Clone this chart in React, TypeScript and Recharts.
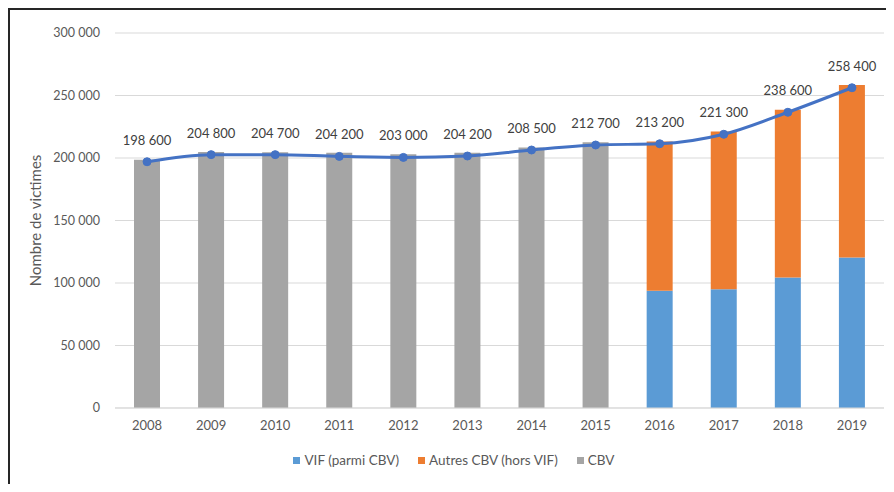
import React from 'react';
import { ComposedChart, Bar, Line, XAxis, YAxis, CartesianGrid, Legend, LabelList } from 'recharts';

// années
const years = ['2008', '2009', '2010', '2011', '2012', '2013', '2014', '2015', '2016', '2017', '2018', '2019'];

// barres grises (CBV) jusqu'en 2015, puis ventilation VIF / autres
const cbv = [198600, 204800, 204700, 204200, 203000, 204200, 208500, 212700, 0, 0, 0, 0];
const vif = [0, 0, 0, 0, 0, 0, 0, 0, 93900, 95000, 104500, 120500];
const autres = [0, 0, 0, 0, 0, 0, 0, 0, 119300, 126300, 134100, 137900];

// courbe du total et étiquettes affichées
const totalLine = [197000, 202700, 202700, 201300, 200500, 201600, 206400, 210400, 211400, 219000, 236600, 256200];
const totalLabels = [198600, 204800, 204700, 204200, 203000, 204200, 208500, 212700, 213200, 221300, 238600, 258400];

const yTicks = [0, 50000, 100000, 150000, 200000, 250000, 300000];

const legendOrder = ['VIF (parmi CBV)', 'Autres CBV (hors VIF)', 'CBV'];

const data = years.map((year, i) => ({
  year,
  vif: vif[i],
  autres: autres[i],
  cbv: cbv[i],
  total: totalLine[i],
  label: totalLabels[i],
}));

const fmt = (v: any) => String(v).replace(/\B(?=(\d{3})+(?!\d))/g, ' ');

const TEXT = '#595959';

const LegendContent = (props: any) => {
  const items = (props.payload || [])
    .filter((p: any) => p.type !== 'none')
    .sort((a: any, b: any) => legendOrder.indexOf(a.value) - legendOrder.indexOf(b.value));
  return (
    <div style={{ display: 'flex', justifyContent: 'center', alignItems: 'center', gap: 19, fontSize: 13.5, color: TEXT, lineHeight: '18px', paddingLeft: 14 }}>
      {items.map((p: any) => (
        <span key={p.value} style={{ display: 'flex', alignItems: 'center', gap: 4 }}>
          <span style={{ width: 7, height: 7, background: p.color, display: 'inline-block' }} />
          {p.value}
        </span>
      ))}
    </div>
  );
};

const YLabel = (props: any) => {
  const vb = props.viewBox || { x: 0, y: 0, width: 0, height: 0 };
  const x = vb.x + 25;
  const y = vb.y + vb.height / 2;
  return (
    <text x={x} y={y} transform={`rotate(-90 ${x} ${y})`} textAnchor="middle" dominantBaseline="central" fill={TEXT} fontSize={15}>
      Nombre de victimes
    </text>
  );
};

export default function App() {
  return (
    <div
      style={{
        width: 878,
        height: 476,
        borderTop: '2px solid #262626',
        borderLeft: '2px solid #262626',
        boxSizing: 'border-box',
        fontFamily: 'Lato, "Liberation Sans", sans-serif',
        background: '#fff',
      }}
    >
      <ComposedChart width={876} height={474} data={data} margin={{ top: 23, right: 2, bottom: 15, left: 0 }}>
        <CartesianGrid vertical={false} stroke="#D9D9D9" />
        <XAxis
          dataKey="year"
          axisLine={{ stroke: '#D9D9D9' }}
          tickLine={false}
          tick={{ fill: TEXT, fontSize: 13 }}
          tickMargin={7}
          height={43}
        />
        <YAxis
          width={105}
          domain={[0, 300000]}
          ticks={yTicks}
          axisLine={false}
          tickLine={false}
          tick={{ fill: TEXT, fontSize: 12.5 }}
          tickMargin={9}
          tickFormatter={fmt}
          label={{ content: YLabel }}
        />
        <Legend verticalAlign="bottom" content={LegendContent} />
        <Bar dataKey="vif" name="VIF (parmi CBV)" stackId="a" fill="#5B9BD5" barSize={26} isAnimationActive={false} />
        <Bar dataKey="autres" name="Autres CBV (hors VIF)" stackId="a" fill="#ED7D31" barSize={26} isAnimationActive={false} />
        <Bar dataKey="cbv" name="CBV" stackId="a" fill="#A5A5A5" barSize={26} isAnimationActive={false} />
        <Line
          dataKey="total"
          type="monotone"
          stroke="#4472C4"
          strokeWidth={3}
          dot={{ r: 4, fill: '#4472C4', stroke: '#4472C4', strokeWidth: 1 }}
          legendType="none"
          isAnimationActive={false}
        >
          <LabelList dataKey="label" position="top" offset={17} formatter={fmt} fill="#404040" fontSize={13} />
        </Line>
      </ComposedChart>
    </div>
  );
}
